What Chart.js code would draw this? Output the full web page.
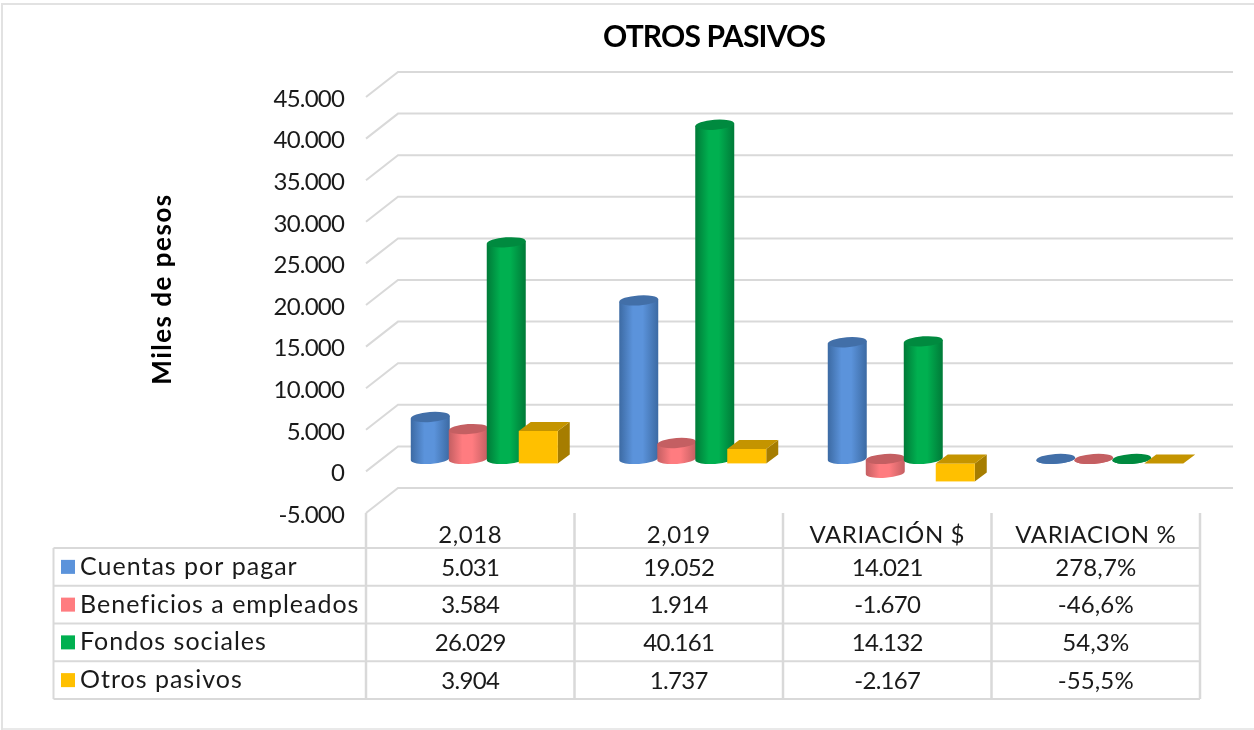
<!DOCTYPE html>
<html>
<head>
<meta charset="utf-8">
<title>Otros pasivos</title>
<script src="https://cdn.jsdelivr.net/npm/chart.js@4"></script>
<style>
  html, body { margin: 0; padding: 0; background: #fff; }
  #wrap { width: 1254px; height: 730px; }
</style>
</head>
<body>
<div id="wrap"><canvas id="chart" width="1254" height="730"></canvas></div>
<script>
const categories = ["2,018", "2,019", "VARIACIÓN $", "VARIACION %"];
const cuentasPorPagar = [5031, 19052, 14021, 2.787];
const beneficiosEmpleados = [3584, 1914, -1670, -0.466];
const fondosSociales = [26029, 40161, 14132, 0.543];
const otrosPasivos = [3904, 1737, -2167, -0.555];

const FONT = "Lato, sans-serif";
const GRID = "#d9d9d9";
const INK = "#1a1a1a";

// shaded colours for each series
const shades = [
  { base: "#5b93db", edge: "#3c6aa3", top: "#426fa8" },
  { base: "#ff7c80", edge: "#c45f62", top: "#c45f62" },
  { base: "#00b050", edge: "#007a38", top: "#008a3f" },
  { base: "#ffc000", side: "#a67d00", top: "#c49400" },
];

// Excel shows the last column as a percentage, the others as thousands
function formatValue(value, col) {
  if (col === 3) return (value * 100).toFixed(1).replace(".", ",") + "%";
  const txt = Math.abs(value).toString().replace(/\B(?=(\d{3})+$)/g, ".");
  return (value < 0 ? "-" : "") + txt;
}

function drawCylinder(ctx, bar, c) {
  const rx = 19.5, ry = 5, tilt = -0.07;
  const cx = bar.x + 17;
  const yTop = Math.min(bar.y, bar.base) - 12.5;
  const yBot = Math.max(bar.y, bar.base) - 12.5;
  const grad = ctx.createLinearGradient(cx - rx, 0, cx + rx, 0);
  grad.addColorStop(0, c.edge);
  grad.addColorStop(0.35, c.base);
  grad.addColorStop(0.6, c.base);
  grad.addColorStop(1, c.edge);
  const dy = Math.sin(tilt) * rx;
  ctx.fillStyle = grad;
  ctx.beginPath();
  ctx.moveTo(cx - rx, yTop - dy);
  ctx.lineTo(cx + rx, yTop + dy);
  ctx.lineTo(cx + rx, yBot + dy);
  ctx.ellipse(cx, yBot, rx, ry, tilt, 0, Math.PI);
  ctx.closePath();
  ctx.fill();
  ctx.fillStyle = c.top;
  ctx.beginPath();
  ctx.ellipse(cx, yTop, rx, ry, tilt, 0, Math.PI * 2);
  ctx.fill();
}

function drawBox(ctx, bar, c) {
  const w = 39, dx = 12, dy = 9;
  const left = bar.x + 11 - w / 2;
  const top = Math.min(bar.y, bar.base) - 8;
  const bottom = Math.max(bar.y, bar.base) - 8;
  ctx.fillStyle = c.side;
  ctx.beginPath();
  ctx.moveTo(left + w, top);
  ctx.lineTo(left + w + dx, top - dy);
  ctx.lineTo(left + w + dx, bottom - dy);
  ctx.lineTo(left + w, bottom);
  ctx.closePath();
  ctx.fill();
  ctx.fillStyle = c.base;
  ctx.fillRect(left, top, w, bottom - top);
  ctx.fillStyle = c.top;
  ctx.beginPath();
  ctx.moveTo(left, top);
  ctx.lineTo(left + dx, top - dy);
  ctx.lineTo(left + w + dx, top - dy);
  ctx.lineTo(left + w, top);
  ctx.closePath();
  ctx.fill();
}

// outer frame, and the title moved over to where Excel had it
const frame = {
  id: "frame",
  afterLayout(chart) {
    chart.titleBlock.left += 114;
    chart.titleBlock.right += 114;
  },
  beforeDraw(chart) {
    const { ctx } = chart;
    ctx.strokeStyle = "#e2e2e2";
    ctx.lineWidth = 2;
    ctx.beginPath();
    ctx.moveTo(2, 730);
    ctx.lineTo(2, 4);
    ctx.lineTo(1254, 4);
    ctx.stroke();
    ctx.lineWidth = 1.5;
    ctx.beginPath();
    ctx.moveTo(2, 729);
    ctx.lineTo(1254, 729);
    ctx.stroke();
    // tick labels and title use the tighter figure spacing
    ctx.letterSpacing = "-0.8px";
  },
};

// back wall grid with the slanted side wall lines
const depthGrid = {
  id: "depthGrid",
  beforeDatasetsDraw(chart) {
    const { ctx, scales: { y }, chartArea } = chart;
    ctx.save();
    ctx.strokeStyle = GRID;
    ctx.lineWidth = 2;
    y.ticks.forEach((tick) => {
      const py = y.getPixelForValue(tick.value);
      ctx.beginPath();
      ctx.moveTo(chartArea.left, py);
      ctx.lineTo(chartArea.left + 32, py - 25);
      ctx.lineTo(1233, py - 25);
      ctx.stroke();
    });
    ctx.restore();
  },
};

// swap the flat bars for cylinders and boxes, still placed by the scales.
// Chart.js paints the last dataset first, Excel has it on top, so paint here
const bars3d = {
  id: "bars3d",
  beforeDatasetsDraw(chart) {
    const { ctx } = chart;
    ctx.save();
    chart.data.datasets.forEach((ds, i) => {
      const c = shades[i];
      chart.getDatasetMeta(i).data.forEach((bar) => {
        if (c.side) drawBox(ctx, bar, c);
        else drawCylinder(ctx, bar, c);
      });
    });
    ctx.restore();
  },
  beforeDatasetDraw() {
    return false;
  },
};

// data table under the chart, and the rotated axis title
const dataTable = {
  id: "dataTable",
  afterDraw(chart) {
    const { ctx, scales: { x }, chartArea } = chart;
    const rowTop = 548, rowH = 37.75, left = 53.5, right = chartArea.right;
    const datasets = chart.data.datasets;
    ctx.save();
    ctx.strokeStyle = GRID;
    ctx.lineWidth = 2;
    for (let r = 0; r <= datasets.length; r++) {
      const py = rowTop + r * rowH;
      ctx.beginPath();
      ctx.moveTo(left, py);
      ctx.lineTo(right, py);
      ctx.stroke();
    }
    ctx.beginPath();
    ctx.moveTo(left, rowTop);
    ctx.lineTo(left, rowTop + datasets.length * rowH);
    ctx.stroke();
    ctx.lineWidth = 2.5;
    for (let i = 0; i <= categories.length; i++) {
      const px = chartArea.left + (i * chartArea.width) / categories.length;
      ctx.beginPath();
      ctx.moveTo(px, chartArea.bottom);
      ctx.lineTo(px, rowTop + datasets.length * rowH);
      ctx.stroke();
    }

    ctx.font = "24px " + FONT;
    ctx.fillStyle = INK;
    ctx.textBaseline = "middle";
    ctx.textAlign = "center";
    ctx.letterSpacing = "0.6px";
    categories.forEach((label, col) => {
      ctx.fillText(label, x.getPixelForTick(col), 535);
    });

    datasets.forEach((ds, r) => {
      const cy = rowTop + r * rowH + rowH / 2;
      ctx.fillStyle = ds.backgroundColor;
      ctx.fillRect(61, cy - 7, 14, 14);
      ctx.fillStyle = INK;
      ctx.textAlign = "left";
      ctx.letterSpacing = "1px";
      ctx.font = "25px " + FONT;
      ctx.fillText(ds.label, 80, cy);
      ctx.textAlign = "center";
      ctx.font = "24px " + FONT;
      ds.data.forEach((value, col) => {
        ctx.letterSpacing = col === 3 ? "0.1px" : "-0.7px";
        ctx.fillText(formatValue(value, col), x.getPixelForTick(col), cy + 1);
      });
    });

    ctx.letterSpacing = "1.5px";
    ctx.font = "bold 26px " + FONT;
    ctx.fillStyle = "#000";
    ctx.translate(163, 289);
    ctx.rotate(-Math.PI / 2);
    ctx.textAlign = "center";
    ctx.fillText("Miles de pesos", 0, 0);
    ctx.restore();
  },
};

new Chart(document.getElementById("chart"), {
  type: "bar",
  data: {
    labels: categories,
    datasets: [
      { label: "Cuentas por pagar", data: cuentasPorPagar, backgroundColor: shades[0].base },
      { label: "Beneficios a empleados", data: beneficiosEmpleados, backgroundColor: shades[1].base },
      { label: "Fondos sociales", data: fondosSociales, backgroundColor: shades[2].base },
      { label: "Otros pasivos", data: otrosPasivos, backgroundColor: shades[3].base },
    ],
  },
  options: {
    responsive: false,
    animation: false,
    categoryPercentage: 0.729,
    barPercentage: 1,
    layout: { padding: { top: 0, right: 54, bottom: 0, left: 0 } },
    scales: {
      x: {
        border: { display: false },
        grid: { display: false, drawTicks: false },
        afterFit: (scale) => { scale.height = 217; },
        ticks: { display: false },
      },
      y: {
        min: -5000,
        max: 45000,
        border: { display: false },
        grid: { display: false, drawTicks: false },
        afterFit: (scale) => { scale.width = 366; },
        ticks: {
          stepSize: 5000,
          padding: 22,
          labelOffset: 2,
          color: INK,
          font: { family: FONT, size: 24 },
          callback: (value) => formatValue(value, 0),
        },
      },
    },
    plugins: {
      legend: { display: false },
      tooltip: { enabled: false },
      title: {
        display: true,
        text: "OTROS PASIVOS",
        color: "#000",
        font: { family: FONT, size: 30, weight: "bold" },
        padding: { top: 19, bottom: 42 },
      },
    },
  },
  plugins: [frame, depthGrid, bars3d, dataTable],
});
</script>
</body>
</html>
